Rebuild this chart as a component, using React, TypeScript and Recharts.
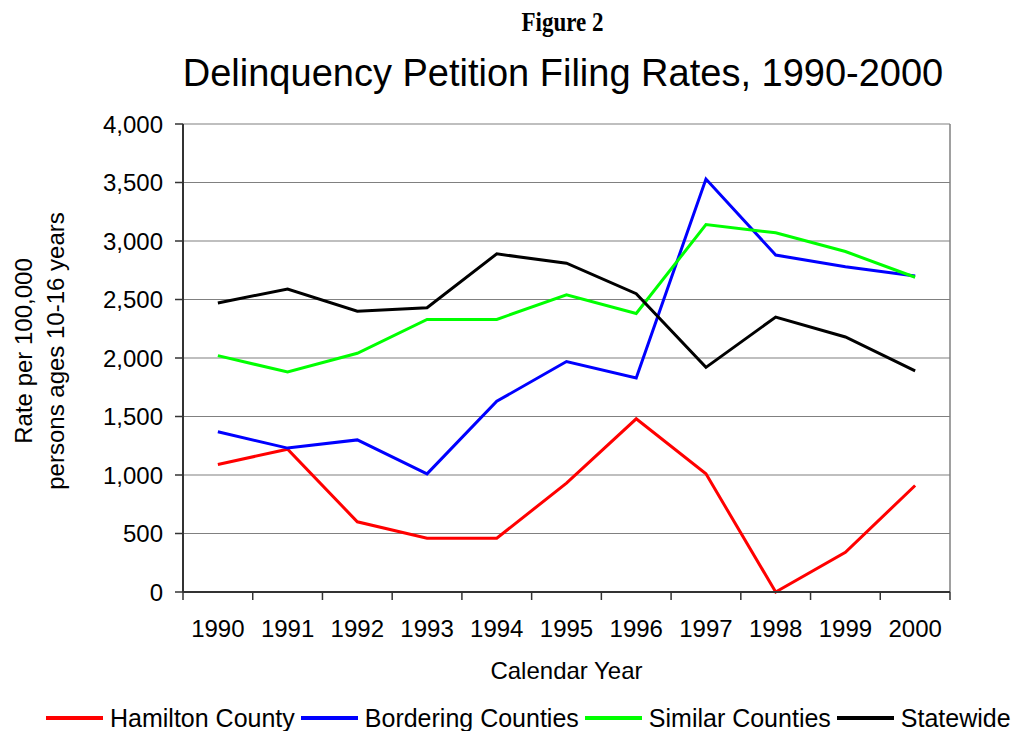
import React from 'react';
import { LineChart, Line, XAxis, YAxis, CartesianGrid, ReferenceLine } from 'recharts';

const years = ['1990', '1991', '1992', '1993', '1994', '1995', '1996', '1997', '1998', '1999', '2000'];
const hamilton = [1090, 1220, 600, 460, 460, 930, 1480, 1010, 0, 340, 910];
const bordering = [1370, 1230, 1300, 1010, 1630, 1970, 1830, 3530, 2880, 2780, 2700];
const similar = [2020, 1880, 2040, 2330, 2330, 2540, 2380, 3140, 3070, 2910, 2690];
const statewide = [2470, 2590, 2400, 2430, 2890, 2810, 2550, 1920, 2350, 2180, 1890];
const yTicks = [0, 500, 1000, 1500, 2000, 2500, 3000, 3500, 4000];

const series = [
  { key: 'hamilton', name: 'Hamilton County', color: '#FF0000' },
  { key: 'bordering', name: 'Bordering Counties', color: '#0000FF' },
  { key: 'similar', name: 'Similar Counties', color: '#00FF00' },
  { key: 'statewide', name: 'Statewide', color: '#000000' },
];

const data = years.map((y, i) => ({
  idx: i,
  year: y,
  hamilton: hamilton[i],
  bordering: bordering[i],
  similar: similar[i],
  statewide: statewide[i],
}));

const xTicks: number[] = [];
for (let i = -0.5; i <= years.length - 0.5; i += 0.5) xTicks.push(i);

const FONT = 'Arial, "Liberation Sans", sans-serif';

const XTick = (props: any) => {
  const { x, y, payload } = props;
  const v = payload.value;
  if (Number.isInteger(v)) {
    return (
      <text x={x} y={y + 45} textAnchor="middle" fontSize={24} fontFamily={FONT} fill="#000">
        {years[v]}
      </text>
    );
  }
  return <line x1={x} x2={x} y1={y} y2={y + 8} stroke="#333" strokeWidth={1.5} />;
};

const YLabel = (props: any) => {
  const vb = props.viewBox || { x: 0, y: 124, width: 183, height: 468 };
  const cy = vb.y + vb.height / 2 - 7;
  return (
    <g>
      <text x={32} y={cy} transform={`rotate(-90 32 ${cy})`} textAnchor="middle" fontSize={24} fontFamily={FONT} fill="#000">
        Rate per 100,000
      </text>
      <text x={64} y={cy} transform={`rotate(-90 64 ${cy})`} textAnchor="middle" fontSize={24} fontFamily={FONT} fill="#000">
        persons ages 10-16 years
      </text>
    </g>
  );
};

const XLabel = (props: any) => {
  const vb = props.viewBox || { x: 183, y: 592, width: 767, height: 139 };
  return (
    <text x={vb.x + vb.width / 2} y={vb.y + 87} textAnchor="middle" fontSize={24} fontFamily={FONT} fill="#000">
      Calendar Year
    </text>
  );
};

export default function App() {
  return (
    <div style={{ position: 'absolute', left: 0, top: 0, width: 1015, height: 731, background: '#fff', overflow: 'hidden' }}>
      <div style={{ position: 'absolute', left: 0, top: 9, width: 1125, textAlign: 'center', fontFamily: '"Liberation Serif", "Times New Roman", serif', fontWeight: 'bold', fontSize: 23, lineHeight: '28px', transform: 'scaleY(1.15)' }}>
        Figure 2
      </div>
      <div style={{ position: 'absolute', left: 0, top: 50, width: 1126, textAlign: 'center', fontFamily: FONT, fontSize: 38, lineHeight: '46px' }}>
        Delinquency Petition Filing Rates, 1990-2000
      </div>
      <LineChart width={1015} height={731} data={data} margin={{ top: 124, right: 65, bottom: 0, left: 0 }}>
        <CartesianGrid horizontal vertical={false} stroke="#808080" strokeWidth={1.2} />
        <XAxis
          dataKey="idx"
          type="number"
          domain={[-0.5, years.length - 0.5]}
          ticks={xTicks}
          interval={0}
          tickSize={0}
          tickMargin={0}
          tickLine={false}
          tick={<XTick />}
          axisLine={{ stroke: '#333', strokeWidth: 2 }}
          height={139}
          label={<XLabel />}
        />
        <YAxis
          domain={[0, 4000]}
          ticks={yTicks}
          interval={0}
          width={183}
          tickSize={8}
          tickMargin={12}
          tickLine={{ stroke: '#333', strokeWidth: 1.5 }}
          axisLine={{ stroke: '#333', strokeWidth: 2 }}
          tickFormatter={(v: number) => v.toLocaleString('en-US')}
          tick={{ fontSize: 24, fontFamily: FONT, fill: '#000' }}
          label={<YLabel />}
        />
        <ReferenceLine x={years.length - 0.5} stroke="#808080" strokeWidth={1.5} />
        {series.map((s) => (
          <Line
            key={s.key}
            type="linear"
            dataKey={s.key}
            name={s.name}
            stroke={s.color}
            strokeWidth={3}
            dot={false}
            activeDot={false}
            isAnimationActive={false}
          />
        ))}
      </LineChart>
      <div style={{ position: 'absolute', left: 46, top: 704, display: 'flex', alignItems: 'center', fontFamily: FONT, fontSize: 25, lineHeight: '28px', whiteSpace: 'nowrap' }}>
        {series.map((s) => (
          <div key={s.key} style={{ display: 'flex', alignItems: 'center', marginRight: 6 }}>
            <div style={{ width: 57, height: 4, background: s.color, marginRight: 7 }} />
            <span>{s.name}</span>
          </div>
        ))}
      </div>
    </div>
  );
}
